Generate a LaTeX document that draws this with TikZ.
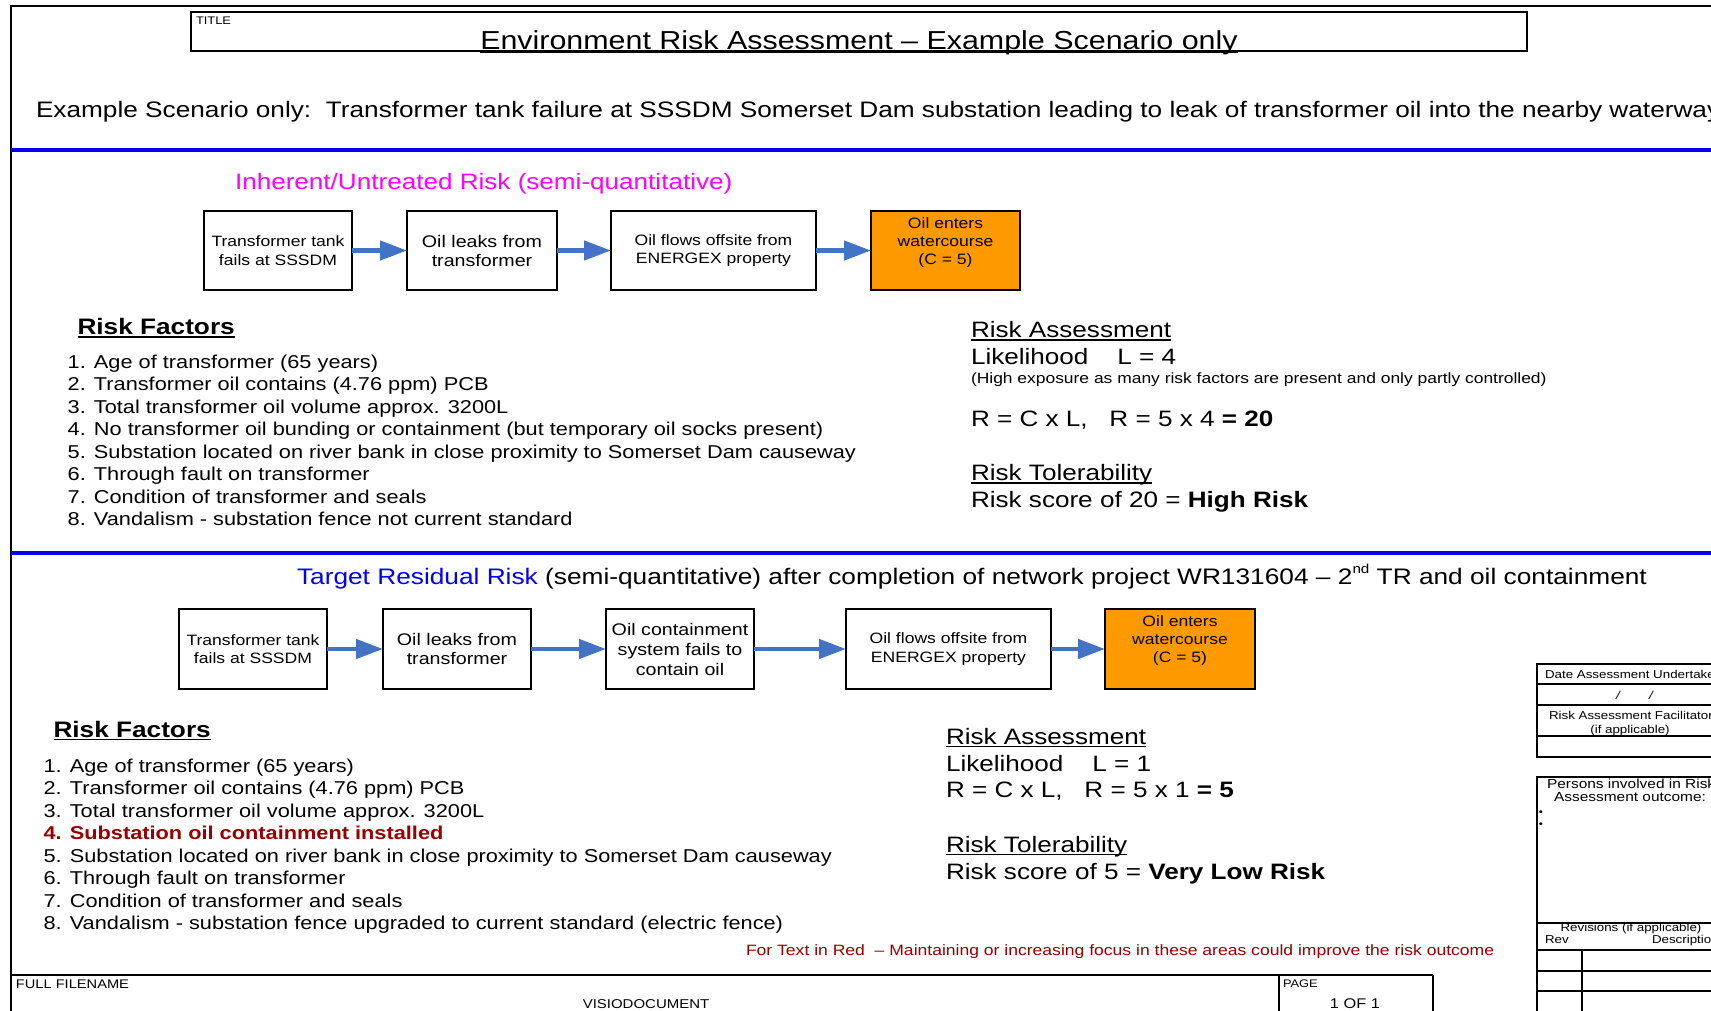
\documentclass[tikz,border=0pt]{standalone}
\usepackage{fontspec}
\setmainfont{Liberation Sans}[FakeStretch=1.17]
\usetikzlibrary{arrows.meta}
\definecolor{arrowblue}{RGB}{68,114,196}
\definecolor{boxorange}{RGB}{255,153,0}
\definecolor{darkred}{RGB}{153,0,0}
\definecolor{sepblue}{RGB}{0,0,235}
\definecolor{headmagenta}{RGB}{255,0,255}
\definecolor{headblue}{RGB}{0,0,255}
\newcommand\fsz[1]{\fontsize{#1}{#1}\selectfont}
\newcommand\myul[1]{\leavevmode\setbox0\hbox{#1}\rlap{\rule[-0.14em]{\wd0}{0.07em}}\box0}
\tikzset{
  txt/.style={anchor=base west, inner sep=0pt, outer sep=0pt},
  ctxt/.style={anchor=base, inner sep=0pt, outer sep=0pt},
  flowbox/.style={draw, line width=2pt, minimum height=79pt, inner sep=0pt, outer sep=0pt, align=center, font=\fontsize{15}{18.5}\selectfont},
  flowlabel/.style={inner sep=0pt, outer sep=0pt, align=center, font=\fontsize{15}{18}\selectfont},
  flowarrow/.style={draw=arrowblue, line width=4.5pt, -{Triangle[length=27pt,width=19pt]}},
  frameline/.style={line width=2pt, black},
  listtxt/.style={txt, font=\fontsize{18.6}{22}\selectfont},
  bigtxt/.style={txt, font=\fontsize{22.3}{26}\selectfont},
  smalltxt/.style={txt, font=\fontsize{11.4}{13}\selectfont},
}
\begin{document}
\begin{tikzpicture}[x=1pt,y=-1pt]
\useasboundingbox (0,0) rectangle (1711,1010);
\clip (0,0) rectangle (1711,1010);
\fill[white] (0,0) rectangle (1711,1010);

% outer frame
\draw[frameline] (11,1012) -- (11,5.5) -- (1712,5.5);

% title block
\draw[frameline] (191,12) rectangle (1527,51);
\node[txt] (titlelabel) at (196,24) {\fsz{11}TITLE};
\node[ctxt] (title) at (859,49) {\fsz{26}\myul{Environment Risk Assessment – Example Scenario only}};

% scenario line
\node[txt] (scenario) at (36,117) {\fsz{22.4}Example Scenario only:\ \ Transformer tank failure at SSSDM Somerset Dam substation leading to leak of transformer oil into the nearby waterway};

% separators
\draw[sepblue, line width=4pt] (11,149.5) -- (1712,149.5);
\draw[sepblue, line width=4pt] (11,553) -- (1712,553);

% ---------- Section 1 ----------
\node[bigtxt, text=headmagenta] (head1) at (235,189) {Inherent/Untreated Risk (semi-quantitative)};

\node[flowbox, minimum width=148pt] (a1) at (278,250.5) {Transformer tank\\fails at SSSDM};
\node[flowbox, minimum width=150pt, font=\fontsize{16.8}{19}\selectfont] (a2) at (482,250.5) {Oil leaks from\\transformer};
\node[flowbox, minimum width=205pt] (a3) at (713.5,250.5) {Oil flows offsite from\\ENERGEX property};
\node[flowbox, minimum width=149pt, fill=boxorange] (a4) at (945.5,250.5) {};
\node[flowlabel] (a4t) at ([yshift=8pt]a4.center) {Oil enters\\watercourse\\(C = 5)};
\draw[flowarrow] (a1.east) -- (a2.west);
\draw[flowarrow] (a2.east) -- (a3.west);
\draw[flowarrow] (a3.east) -- (a4.west);

\node[txt, font=\fontsize{22.4}{26}\selectfont\bfseries] (rf1) at (77.5,334.5) {\myul{Risk Factors}};
\node[listtxt] (f11) at (67.7,368)   {1. Age of transformer (65 years)};
\node[listtxt] (f12) at (67.7,390.5) {2. Transformer oil contains (4.76 ppm) PCB};
\node[listtxt] (f13) at (67.7,413)   {3. Total transformer oil volume approx. 3200L};
\node[listtxt] (f14) at (67.7,435.5) {4. No transformer oil bunding or containment (but temporary oil socks present)};
\node[listtxt] (f15) at (67.7,458)   {5. Substation located on river bank in close proximity to Somerset Dam causeway};
\node[listtxt] (f16) at (67.7,480.5) {6. Through fault on transformer};
\node[listtxt] (f17) at (67.7,503)   {7. Condition of transformer and seals};
\node[listtxt] (f18) at (67.7,525.5) {8. Vandalism - substation fence not current standard};

\node[bigtxt] (ra1) at (971,337.5) {\myul{Risk Assessment}};
\node[bigtxt] (lk1) at (971,364.5) {Likelihood\hspace{29pt}L = 4};
\node[txt, font=\fontsize{14.9}{16}\selectfont] (ex1) at (971,383.5) {(High exposure as many risk factors are present and only partly controlled)};
\node[bigtxt] (rc1) at (971,426) {R = C x L,~~~R = 5 x 4 \textbf{= 20}};
\node[bigtxt] (rt1) at (971,480.5) {\myul{Risk Tolerability}};
\node[bigtxt] (rs1) at (971,507.5) {Risk score of 20 = \textbf{High Risk}};

% ---------- Section 2 ----------
\node[txt, font=\fontsize{22.45}{26}\selectfont] (head2) at (297,584.5) {\textcolor{headblue}{Target Residual Risk} (semi-quantitative) after completion of network project WR131604 – 2\raisebox{0.5em}{\fontsize{13}{13}\selectfont nd} TR and oil containment};

\node[flowbox, minimum width=148pt, minimum height=80pt] (c1) at (253,649) {Transformer tank\\fails at SSSDM};
\node[flowbox, minimum width=148pt, minimum height=80pt, font=\fontsize{16.8}{19}\selectfont] (c2) at (457,649) {Oil leaks from\\transformer};
\node[flowbox, minimum width=148pt, minimum height=80pt, font=\fontsize{16.8}{20}\selectfont] (c3) at (680,649) {Oil containment\\system fails to\\contain oil};
\node[flowbox, minimum width=205pt, minimum height=80pt] (c4) at (948.5,649) {Oil flows offsite from\\ENERGEX property};
\node[flowbox, minimum width=150pt, minimum height=80pt, fill=boxorange] (c5) at (1180,649) {};
\node[flowlabel] (c5t) at ([yshift=8pt]c5.center) {Oil enters\\watercourse\\(C = 5)};
\draw[flowarrow] (c1.east) -- (c2.west);
\draw[flowarrow] (c2.east) -- (c3.west);
\draw[flowarrow] (c3.east) -- (c4.west);
\draw[flowarrow] (c4.east) -- (c5.west);

\node[txt, font=\fontsize{22.4}{26}\selectfont\bfseries] (rf2) at (53.5,737) {\myul{Risk Factors}};
\node[listtxt] (f21) at (43.6,772)   {1. Age of transformer (65 years)};
\node[listtxt] (f22) at (43.6,794.5) {2. Transformer oil contains (4.76 ppm) PCB};
\node[listtxt] (f23) at (43.6,817)   {3. Total transformer oil volume approx. 3200L};
\node[listtxt, text=darkred, font=\fontsize{18.6}{22}\selectfont\bfseries] (f24) at (43.6,839.5) {4. Substation oil containment installed};
\node[listtxt] (f25) at (43.6,862)   {5. Substation located on river bank in close proximity to Somerset Dam causeway};
\node[listtxt] (f26) at (43.6,884.5) {6. Through fault on transformer};
\node[listtxt] (f27) at (43.6,907)   {7. Condition of transformer and seals};
\node[listtxt] (f28) at (43.6,929.5) {8. Vandalism - substation fence upgraded to current standard (electric fence)};

\node[bigtxt] (ra2) at (946,744) {\myul{Risk Assessment}};
\node[bigtxt] (lk2) at (946,771) {Likelihood\hspace{29pt}L = 1};
\node[bigtxt] (rc2) at (946,797) {R = C x L,~~~R = 5 x 1 \textbf{= 5}};
\node[bigtxt] (rt2) at (946,852) {\myul{Risk Tolerability}};
\node[bigtxt] (rs2) at (946,879) {Risk score of 5 = \textbf{Very Low Risk}};

\node[txt, text=darkred, font=\fontsize{15}{16}\selectfont] (note) at (746,955.5) {For Text in Red\ \ – Maintaining or increasing focus in these areas could improve the risk outcome};

% ---------- bottom title block ----------
\draw[frameline] (11,974.5) -- (1433,974.5);
\draw[frameline] (1279,974.5) -- (1279,1012);
\draw[frameline] (1433,974.5) -- (1433,1012);
\node[txt] (fnlabel) at (16,988.5) {\fsz{12.5}FULL FILENAME};
\node[ctxt] (fname) at (646,1008.5) {\fsz{12.8}VISIODOCUMENT};
\node[txt] (pglabel) at (1283,987) {\fsz{11}PAGE};
\node[ctxt] (pg) at (1355,1008) {\fsz{14}1 OF 1};

% ---------- right side panel ----------
\draw[frameline] (1712,664) -- (1537,664) -- (1537,757) -- (1712,757);
\draw[frameline] (1537,684) -- (1712,684);
\draw[frameline] (1537,705) -- (1712,705);
\draw[frameline] (1537,736) -- (1712,736);
\node[smalltxt] (dateu) at (1545,678) {Date Assessment Undertaken:};
\node[ctxt] (slash1) at (1618,699) {\fsz{11.4}\itshape /};
\node[ctxt] (slash2) at (1651,699) {\fsz{11.4}\itshape /};
\node[smalltxt] (facil) at (1549,719) {Risk Assessment Facilitator:};
\node[ctxt] (ifapp) at (1630,733) {\fsz{11.4}(if applicable)};

\draw[frameline] (1712,776.5) -- (1537,776.5) -- (1537,1012);
\draw[frameline] (1537,922.5) -- (1712,922.5);
\draw[frameline] (1537,950) -- (1712,950);
\draw[frameline] (1537,971) -- (1712,971);
\draw[frameline] (1537,991) -- (1712,991);
\draw[frameline] (1582,950) -- (1582,1012);
\node[txt] (persons) at (1547,788) {\fsz{13.2}Persons involved in Risk};
\node[ctxt] (outcome) at (1630,801.5) {\fsz{13.2}Assessment outcome:};
\node (bul1) at (1541,812.7) {\fsz{10}•};
\node (bul2) at (1541,825) {\fsz{10}•};
\node[ctxt] (revs) at (1631,931) {\fsz{11.4}Revisions (if applicable)};
\node[smalltxt] (rev) at (1545,943) {Rev};
\node[smalltxt] (desc) at (1652,943) {Description};
\end{tikzpicture}
\end{document}
